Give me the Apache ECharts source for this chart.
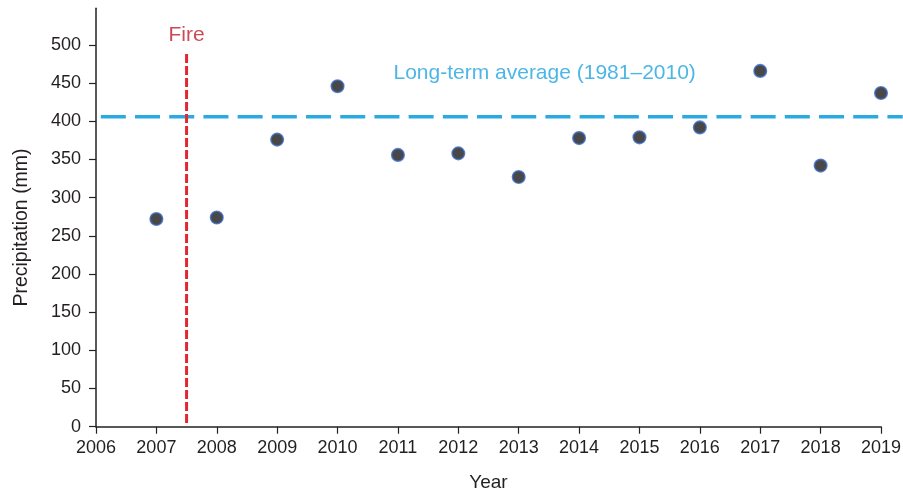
<!DOCTYPE html>
<html>
<head>
<meta charset="utf-8">
<script src="https://cdn.jsdelivr.net/npm/echarts@6/dist/echarts.min.js"></script>
<style>
html,body{margin:0;padding:0;background:#fff;}
#chart{width:903px;height:492px;}
</style>
</head>
<body>
<div id="chart"></div>
<script>
const years = [2007, 2008, 2009, 2010, 2011, 2012, 2013, 2014, 2015, 2016, 2017, 2018, 2019];
const precipitation = [272, 274, 376, 446, 356, 358, 327, 378, 379, 392, 466, 342, 437];
const longTermAverage = 406;
const averageSpan = [2006.08, 2019.36];
const fireYear = 2007.5;
const fireSpan = [5, 490];
const yTicks = [0, 50, 100, 150, 200, 250, 300, 350, 400, 450, 500];
const fireLabelPos = [2007.5, 513];
const avgLabelPos = [2013.43, 463];

const font = 'Liberation Sans, Arial, Helvetica, sans-serif';
const textColor = '#231f20';
const chart = echarts.init(document.getElementById('chart'), null, {renderer: 'canvas'});

// main plot: 2006..2019 over 785 px; overlay grid keeps the same px/year but reaches the right edge
const mainLeft = 96, mainRight = 22, W = 903;
const pxPerYear = (W - mainLeft - mainRight) / (2019 - 2006);
const overlayMax = 2006 + (W - mainLeft) / pxPerYear;

chart.setOption({
  animation: false,
  grid: [
    {left: mainLeft, right: mainRight, top: 8.3, bottom: 65.3, containLabel: false, outerBoundsMode: 'none'},
    {left: mainLeft, right: 0, top: 8.3, bottom: 65.3, containLabel: false, outerBoundsMode: 'none'}
  ],
  xAxis: [{
    type: 'value', min: 2006, max: 2019, interval: 1, gridIndex: 0,
    name: 'Year', nameLocation: 'middle', nameGap: 47,
    nameTextStyle: {fontFamily: font, fontSize: 19, color: textColor},
    axisLine: {show: true, lineStyle: {color: '#222', width: 1.5}},
    axisTick: {show: true, length: 7, lineStyle: {color: '#222', width: 1.2}},
    axisLabel: {fontFamily: font, fontSize: 18, color: textColor, margin: 12, formatter: v => String(v)},
    splitLine: {show: false}
  }, {
    type: 'value', min: 2006, max: overlayMax, gridIndex: 1, show: false
  }],
  yAxis: [{
    type: 'value', min: 0, max: 548, interval: 50, gridIndex: 0,
    name: 'Precipitation (mm)', nameLocation: 'middle', nameGap: 64,
    nameTextStyle: {fontFamily: font, fontSize: 19.5, color: textColor, padding: [0, 20, 0, 0]},
    axisLine: {show: true, lineStyle: {color: '#222', width: 1.5}},
    axisTick: {show: true, length: 7, customValues: yTicks, lineStyle: {color: '#222', width: 1.2}},
    axisLabel: {fontFamily: font, fontSize: 18, color: textColor, margin: 15, customValues: yTicks},
    splitLine: {show: false}
  }, {
    type: 'value', min: 0, max: 548, gridIndex: 1, show: false
  }],
  series: [
    {
      type: 'line', clip: false, symbol: 'none', silent: true,
      xAxisIndex: 1, yAxisIndex: 1,
      data: [[averageSpan[0], longTermAverage], [averageSpan[1], longTermAverage]],
      lineStyle: {color: '#29abe2', width: 3.5, type: [25, 9.2]},
      z: 1
    },
    {
      type: 'line', clip: false, symbol: 'none', silent: true,
      data: [[fireYear, fireSpan[0]], [fireYear, fireSpan[1]]],
      lineStyle: {color: '#e52630', width: 3, type: [9, 3]},
      z: 2
    },
    {
      type: 'scatter',
      data: years.map((y, i) => [y, precipitation[i]]),
      symbol: 'circle', symbolSize: 12.5,
      itemStyle: {color: '#1b1a1c', borderColor: '#3a68c2', borderWidth: 1.6},
      z: 5
    },
    {
      type: 'scatter', symbolSize: 0, silent: true,
      data: [fireLabelPos],
      label: {show: true, position: 'inside', formatter: 'Fire', fontFamily: font, fontSize: 21, color: '#bf1a28'}
    },
    {
      type: 'scatter', symbolSize: 0, silent: true,
      data: [avgLabelPos],
      label: {show: true, position: 'inside', formatter: 'Long-term average (1981–2010)', fontFamily: font, fontSize: 21, color: '#1fa4de'}
    }
  ]
});
</script>
</body>
</html>
